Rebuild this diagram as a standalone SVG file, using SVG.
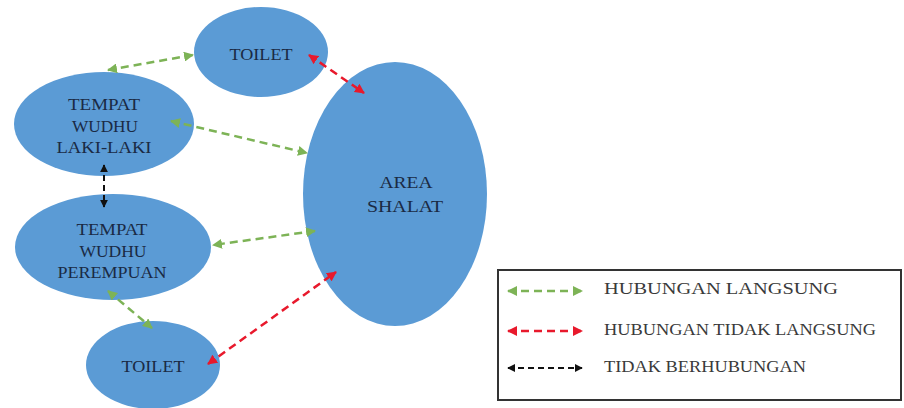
<svg xmlns="http://www.w3.org/2000/svg" width="904" height="408" viewBox="0 0 904 408">
<style>
.n{fill:#5B9BD5;stroke:none}
.t{font-family:"Liberation Serif",serif;font-size:16px;fill:#1A2A44;text-anchor:middle}
.lt{font-family:"Liberation Serif",serif;font-size:16px;fill:#3A3A3A;}
.g{stroke:#7DB356;stroke-width:2.5;stroke-dasharray:8 5;fill:none;marker-start:url(#ga);marker-end:url(#ga)}
.r{stroke:#E8192C;stroke-width:2.5;stroke-dasharray:8 5;fill:none;marker-start:url(#ra);marker-end:url(#ra)}
.k{stroke:#111;stroke-width:2;stroke-dasharray:6 4;fill:none;marker-start:url(#ka);marker-end:url(#ka)}
</style>
<defs>
<marker id="ga" viewBox="0 0 10 10" refX="9" refY="5" markerWidth="4" markerHeight="4" orient="auto-start-reverse"><path d="M0,0L10,5L0,10z" fill="#7DB356"/></marker>
<marker id="ra" viewBox="0 0 10 10" refX="9" refY="5" markerWidth="4" markerHeight="4" orient="auto-start-reverse"><path d="M0,0L10,5L0,10z" fill="#E8192C"/></marker>
<marker id="ka" viewBox="0 0 10 10" refX="9" refY="5" markerWidth="4" markerHeight="4" orient="auto-start-reverse"><path d="M0,0L10,5L0,10z" fill="#111"/></marker>
</defs>
<rect width="904" height="408" fill="#fff"/>
<g id="toilet-top"><ellipse class="n" cx="261" cy="52" rx="67" ry="45"/><text class="t" x="261" y="60" textLength="63" lengthAdjust="spacingAndGlyphs">TOILET</text></g>
<g id="wudhu-laki"><ellipse class="n" cx="104" cy="124" rx="90" ry="52"/><text class="t" x="104" y="110" textLength="72" lengthAdjust="spacingAndGlyphs">TEMPAT</text><text class="t" x="105" y="132" textLength="66" lengthAdjust="spacingAndGlyphs">WUDHU</text><text class="t" x="104" y="153" textLength="95" lengthAdjust="spacingAndGlyphs">LAKI-LAKI</text></g>
<g id="wudhu-perempuan"><ellipse class="n" cx="113" cy="247" rx="98" ry="53"/><text class="t" x="112" y="235" textLength="71" lengthAdjust="spacingAndGlyphs">TEMPAT</text><text class="t" x="113" y="257" textLength="67" lengthAdjust="spacingAndGlyphs">WUDHU</text><text class="t" x="112" y="278" textLength="109" lengthAdjust="spacingAndGlyphs">PEREMPUAN</text></g>
<g id="toilet-bottom"><ellipse class="n" cx="153" cy="365" rx="67" ry="44"/><text class="t" x="153" y="372" textLength="63" lengthAdjust="spacingAndGlyphs">TOILET</text></g>
<g id="area-shalat"><ellipse class="n" cx="395" cy="194" rx="92" ry="132"/><text class="t" x="406" y="188" textLength="53" lengthAdjust="spacingAndGlyphs">AREA</text><text class="t" x="405" y="212" textLength="76" lengthAdjust="spacingAndGlyphs">SHALAT</text></g>
<g id="connectors">
<line class="g" x1="108" y1="70" x2="193" y2="55"/>
<line class="r" x1="309" y1="55" x2="364" y2="93"/>
<line class="g" x1="171" y1="121" x2="307" y2="153"/>
<line class="k" x1="104" y1="165" x2="104" y2="207"/>
<line class="g" x1="315" y1="231" x2="213" y2="245"/>
<line class="g" x1="108" y1="291" x2="152" y2="328"/>
<line class="r" x1="208" y1="364" x2="336" y2="272"/>
</g>
<g id="legend">
<rect x="498" y="270" width="403" height="130" fill="#fff" stroke="#333" stroke-width="2"/>
<line class="g" x1="508" y1="291" x2="582" y2="291"/>
<line class="r" x1="508" y1="331" x2="582" y2="331"/>
<line class="k" x1="508" y1="368" x2="582" y2="368"/>
<text class="lt" x="604" y="294" textLength="234" lengthAdjust="spacingAndGlyphs">HUBUNGAN LANGSUNG</text>
<text class="lt" x="604" y="335" textLength="272" lengthAdjust="spacingAndGlyphs">HUBUNGAN TIDAK LANGSUNG</text>
<text class="lt" x="604" y="372" textLength="202" lengthAdjust="spacingAndGlyphs">TIDAK BERHUBUNGAN</text>
</g>
</svg>
